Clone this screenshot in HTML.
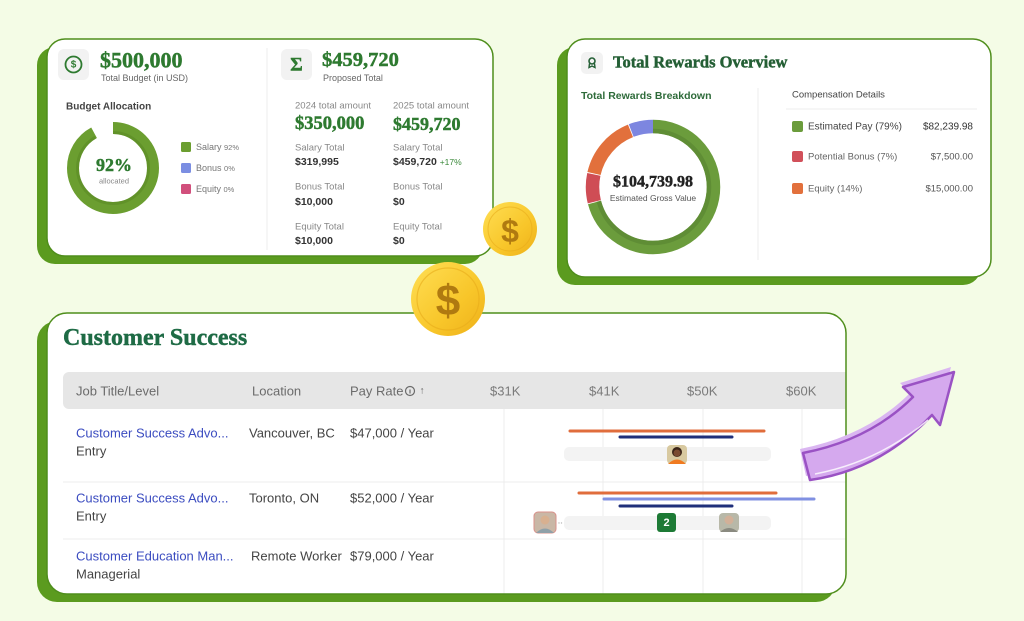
<!DOCTYPE html>
<html><head><meta charset="utf-8"><style>
html,body{margin:0;padding:0;background:#f4fce6;}
svg{display:block;}
.s{font-family:"Liberation Sans",sans-serif;}
.f{font-family:"Liberation Serif",serif;font-weight:bold;stroke-width:0.45px;}
</style></head><body>
<svg width="1024" height="621" viewBox="0 0 1024 621" xmlns="http://www.w3.org/2000/svg">
<defs>
<linearGradient id="gold" x1="0" y1="0" x2="1" y2="1">
<stop offset="0" stop-color="#ffdf55"/><stop offset="0.6" stop-color="#f8c62a"/><stop offset="1" stop-color="#eeb019"/>
</linearGradient>
<clipPath id="c3"><rect x="47" y="313" width="799" height="281" rx="20"/></clipPath>
</defs>
<rect width="1024" height="621" fill="#f4fce6"/>

<!-- CARD 1 -->
<rect x="37" y="47" width="446" height="217" rx="18" fill="#5b9b1f"/>
<rect x="47" y="39" width="446" height="217" rx="18" fill="#fff" stroke="#4f8e1c" stroke-width="1.5"/>
<rect x="58" y="49" width="31" height="31" rx="6" fill="#f2f2f2"/>
<circle cx="73.5" cy="64.5" r="8" fill="none" stroke="#2e7a30" stroke-width="1.8"/>
<text x="73.5" y="65" class="s" font-size="10" font-weight="bold" fill="#2e7a30" text-anchor="middle" dominant-baseline="central">$</text>
<text x="100" y="60" class="f" font-size="22" fill="#2e7a30" stroke="#2e7a30" dominant-baseline="central">$500,000</text>
<text x="101" y="78" class="s" font-size="9" fill="#666" dominant-baseline="central">Total Budget (in USD)</text>
<text x="66" y="107" class="s" font-size="10" font-weight="bold" fill="#444" dominant-baseline="central">Budget Allocation</text>
<circle cx="113" cy="168" r="40" fill="none" stroke="#6b9e30" stroke-width="12" stroke-dasharray="231.2 300" transform="rotate(-90 113 168)"/>
<circle cx="113" cy="168" r="35.5" fill="none" stroke="#5a8a24" stroke-width="3" stroke-dasharray="204 300" transform="rotate(-90 113 168)" opacity="0.6"/>
<text x="114" y="165" class="f" font-size="18" fill="#2e7a30" stroke="#2e7a30" text-anchor="middle" dominant-baseline="central">92%</text>
<text x="114" y="181" class="s" font-size="7.5" fill="#888" text-anchor="middle" dominant-baseline="central">allocated</text>
<rect x="181" y="142" width="10" height="10" rx="1.5" fill="#6b9e30"/>
<text x="196" y="147" class="s" font-size="9" fill="#777" dominant-baseline="central">Salary <tspan font-size="7.5">92%</tspan></text>
<rect x="181" y="163" width="10" height="10" rx="1.5" fill="#7b8ee2"/>
<text x="196" y="168" class="s" font-size="9" fill="#777" dominant-baseline="central">Bonus <tspan font-size="7.5">0%</tspan></text>
<rect x="181" y="184" width="10" height="10" rx="1.5" fill="#d14f7c"/>
<text x="196" y="189" class="s" font-size="9" fill="#777" dominant-baseline="central">Equity <tspan font-size="7.5">0%</tspan></text>
<line x1="267" y1="48" x2="267" y2="250" stroke="#ececec" stroke-width="1"/>
<rect x="281" y="49" width="31" height="31" rx="6" fill="#f2f2f2"/>
<text x="296.5" y="65" class="f" font-size="19" fill="#2e7a30" stroke="#2e7a30" text-anchor="middle" dominant-baseline="central">Σ</text>
<text x="322" y="60" class="f" font-size="20.5" fill="#2e7a30" stroke="#2e7a30" dominant-baseline="central">$459,720</text>
<text x="323" y="78" class="s" font-size="9" fill="#666" dominant-baseline="central">Proposed Total</text>
<g class="s" dominant-baseline="central">
<text x="295" y="106" font-size="9.5" fill="#888">2024 total amount</text>
<text x="393" y="106" font-size="9.5" fill="#888">2025 total amount</text>
<text x="295" y="148" font-size="9.5" fill="#888">Salary Total</text>
<text x="393" y="148" font-size="9.5" fill="#888">Salary Total</text>
<text x="295" y="162" font-size="10.5" font-weight="bold" fill="#333">$319,995</text>
<text x="393" y="162" font-size="10.5" font-weight="bold" fill="#333">$459,720 <tspan font-size="8.5" font-weight="normal" fill="#3b8a3b">+17%</tspan></text>
<text x="295" y="187" font-size="9.5" fill="#888">Bonus Total</text>
<text x="393" y="187" font-size="9.5" fill="#888">Bonus Total</text>
<text x="295" y="202" font-size="10.5" font-weight="bold" fill="#333">$10,000</text>
<text x="393" y="202" font-size="10.5" font-weight="bold" fill="#333">$0</text>
<text x="295" y="227" font-size="9.5" fill="#888">Equity Total</text>
<text x="393" y="227" font-size="9.5" fill="#888">Equity Total</text>
<text x="295" y="241" font-size="10.5" font-weight="bold" fill="#333">$10,000</text>
<text x="393" y="241" font-size="10.5" font-weight="bold" fill="#333">$0</text>
</g>
<text x="295" y="124" class="f" font-size="18.5" fill="#2e7a30" stroke="#2e7a30" dominant-baseline="central">$350,000</text>
<text x="393" y="124" class="f" font-size="18" fill="#2e7a30" stroke="#2e7a30" dominant-baseline="central">$459,720</text>

<!-- CARD 2 -->
<rect x="557" y="47" width="424" height="238" rx="18" fill="#5b9b1f"/>
<rect x="567" y="39" width="424" height="238" rx="18" fill="#fff" stroke="#4f8e1c" stroke-width="1.5"/>
<rect x="581" y="52" width="22" height="22" rx="5" fill="#f2f2f2"/>
<circle cx="592" cy="61" r="3" fill="none" stroke="#245f35" stroke-width="1.6"/>
<path d="M589.5,63.5 L589,67.5 L592,66 L595,67.5 L594.5,63.5" fill="none" stroke="#245f35" stroke-width="1.4"/>
<text x="613" y="62" class="f" font-size="16.5" fill="#245f35" stroke="#245f35" dominant-baseline="central">Total Rewards Overview</text>
<text x="581" y="96" class="s" font-size="10.5" font-weight="bold" fill="#2e6b3a" dominant-baseline="central">Total Rewards Breakdown</text>
<line x1="758" y1="88" x2="758" y2="260" stroke="#ececec" stroke-width="1"/>
<text x="792" y="95" class="s" font-size="9.5" fill="#444" dominant-baseline="central">Compensation Details</text>
<line x1="786" y1="109" x2="977" y2="109" stroke="#ececec" stroke-width="1"/>
<g transform="rotate(-90 653 187)">
<circle cx="653" cy="187" r="60.5" fill="none" stroke="#6b9c3c" stroke-width="13.5" stroke-dasharray="269.3 400"/>
<circle cx="653" cy="187" r="56" fill="none" stroke="#5a8832" stroke-width="4.5" stroke-dasharray="249.3 400" opacity="0.7"/>
<circle cx="653" cy="187" r="60.5" fill="none" stroke="#cf4d55" stroke-width="13.5" stroke-dasharray="0 270.1 27.6 400"/>
<circle cx="653" cy="187" r="60.5" fill="none" stroke="#e2703c" stroke-width="13.5" stroke-dasharray="0 298.6 58.3 400"/>
<circle cx="653" cy="187" r="60.5" fill="none" stroke="#7d86e0" stroke-width="13.5" stroke-dasharray="0 357.7 22.4 400"/>
</g>
<text x="653" y="182" class="f" font-size="16" fill="#222" stroke="#222" text-anchor="middle" dominant-baseline="central">$104,739.98</text>
<text x="653" y="198" class="s" font-size="8.5" fill="#555" text-anchor="middle" dominant-baseline="central">Estimated Gross Value</text>
<rect x="792" y="121" width="11" height="11" rx="2" fill="#6b9c3c"/>
<rect x="792" y="151" width="11" height="11" rx="2" fill="#d1505a"/>
<rect x="792" y="183" width="11" height="11" rx="2" fill="#e2703c"/>
<g class="s" dominant-baseline="central">
<text x="808" y="127" font-size="10" fill="#444">Estimated Pay (79%)</text>
<text x="973" y="127" font-size="10" fill="#333" text-anchor="end">$82,239.98</text>
<text x="808" y="157" font-size="9.5" fill="#666">Potential Bonus  (7%)</text>
<text x="973" y="157" font-size="9.5" fill="#555" text-anchor="end">$7,500.00</text>
<text x="808" y="189" font-size="9.5" fill="#666">Equity  (14%)</text>
<text x="973" y="189" font-size="9.5" fill="#555" text-anchor="end">$15,000.00</text>
</g>

<!-- CARD 3 -->
<rect x="37" y="321" width="799" height="281" rx="20" fill="#5b9b1f"/>
<rect x="47" y="313" width="799" height="281" rx="20" fill="#fff"/>
<g clip-path="url(#c3)">
<rect x="63" y="372" width="800" height="37" rx="6" fill="#e6e6e6"/>
<g stroke="#ececec" stroke-width="1">
<line x1="504" y1="409" x2="504" y2="594"/>
<line x1="603" y1="409" x2="603" y2="594"/>
<line x1="703" y1="409" x2="703" y2="594"/>
<line x1="802" y1="409" x2="802" y2="594"/>
<line x1="63" y1="482" x2="846" y2="482"/>
<line x1="63" y1="539" x2="846" y2="539"/>
</g>
</g>
<rect x="47" y="313" width="799" height="281" rx="20" fill="none" stroke="#4f8e1c" stroke-width="1.5"/>
<text x="63" y="338" class="f" font-size="24" fill="#1e6b45" stroke="#1e6b45" dominant-baseline="central">Customer Success</text>
<g class="s" font-size="13" dominant-baseline="central">
<text x="76" y="391" fill="#6b6b6b">Job Title/Level</text>
<text x="252" y="391" fill="#6b6b6b">Location</text>
<text x="350" y="391" fill="#6b6b6b">Pay Rate</text>
<text x="490" y="391" fill="#7a7a7a">$31K</text>
<text x="589" y="391" fill="#7a7a7a">$41K</text>
<text x="687" y="391" fill="#7a7a7a">$50K</text>
<text x="786" y="391" fill="#7a7a7a">$60K</text>
<text x="76" y="433" fill="#3b4cc0">Customer Success Advo...</text>
<text x="76" y="451" fill="#444">Entry</text>
<text x="249" y="433" fill="#444">Vancouver, BC</text>
<text x="350" y="433" fill="#444">$47,000 / Year</text>
<text x="76" y="498" fill="#3b4cc0">Customer Success Advo...</text>
<text x="76" y="516" fill="#444">Entry</text>
<text x="249" y="498" fill="#444">Toronto, ON</text>
<text x="350" y="498" fill="#444">$52,000 / Year</text>
<text x="76" y="556" fill="#3b4cc0">Customer Education Man...</text>
<text x="76" y="574" fill="#444">Managerial</text>
<text x="251" y="556" fill="#444">Remote Worker</text>
<text x="350" y="556" fill="#444">$79,000 / Year</text>
</g>
<circle cx="410" cy="391" r="4.5" fill="none" stroke="#6b6b6b" stroke-width="1.2"/>
<line x1="410" y1="389.5" x2="410" y2="393.5" stroke="#6b6b6b" stroke-width="1.2"/>
<text x="422" y="391" class="s" font-size="10" fill="#6b6b6b" text-anchor="middle" dominant-baseline="central">↑</text>

<!-- chart rows -->
<g stroke-linecap="round" stroke-width="3">
<line x1="570" y1="431" x2="764" y2="431" stroke="#e06d3c"/>
<line x1="620" y1="437" x2="732" y2="437" stroke="#1f2f7a"/>
<line x1="579" y1="493" x2="776" y2="493" stroke="#e06d3c"/>
<line x1="604" y1="499" x2="814" y2="499" stroke="#8090e2"/>
<line x1="620" y1="506" x2="732" y2="506" stroke="#1f2f7a"/>
</g>
<rect x="564" y="447" width="207" height="14" rx="5" fill="#f3f3f3"/>
<rect x="564" y="516" width="207" height="14" rx="5" fill="#f3f3f3"/>
<!-- avatar row1 -->
<rect x="667" y="445" width="20" height="19" rx="4" fill="#d8c9a0"/>
<circle cx="677" cy="452" r="5" fill="#3a2418"/>
<circle cx="677" cy="453" r="3.5" fill="#7a4a30"/>
<path d="M668,464 Q677,455 686,464 Z" fill="#f07a20"/>
<!-- avatar row2 left -->
<rect x="534" y="512" width="22" height="21" rx="4" fill="#c9b7a6" stroke="#d9908a" stroke-width="1"/>
<circle cx="545" cy="520" r="4.5" fill="#d8b090"/>
<path d="M536,533 Q545,524 554,533 Z" fill="#8fa0a8"/>
<circle cx="559" cy="523" r="0.7" fill="#bbb"/><circle cx="561.5" cy="523" r="0.7" fill="#bbb"/>
<!-- badge -->
<rect x="657" y="513" width="19" height="19" rx="3" fill="#1d7a35"/>
<text x="666.5" y="523" class="s" font-size="11" font-weight="bold" fill="#fff" text-anchor="middle" dominant-baseline="central">2</text>
<!-- avatar row2 right -->
<rect x="719" y="513" width="20" height="19" rx="4" fill="#b8b8a8"/>
<circle cx="729" cy="520" r="4.5" fill="#d2b098"/>
<path d="M720,532 Q729,524 738,532 Z" fill="#8a8a80"/>

<!-- COINS -->
<circle cx="510" cy="229" r="27" fill="url(#gold)"/>
<circle cx="510" cy="229" r="22" fill="none" stroke="#e8ac1a" stroke-width="1" opacity="0.6"/>
<text x="510" y="231" class="s" font-size="32" font-weight="bold" fill="#b07a10" text-anchor="middle" dominant-baseline="central">$</text>
<circle cx="448" cy="299" r="37" fill="url(#gold)"/>
<circle cx="448" cy="299" r="31" fill="none" stroke="#e8ac1a" stroke-width="1.2" opacity="0.6"/>
<text x="448" y="301" class="s" font-size="44" font-weight="bold" fill="#b07a10" text-anchor="middle" dominant-baseline="central">$</text>

<!-- ARROW -->
<path d="M800,449 Q867,436 910,393 L900,383 L951,367 L937,420 L929,410 Q877,465 806,476 Z" fill="#dab6f1"/>
<path d="M803,453 Q870,440 913,397 L903,387 L954,372 L940,425 L932,415 Q880,470 810,480 Z" fill="#d5a9ee" stroke="#9a52c4" stroke-width="2.5" stroke-linejoin="round"/>
<path d="M815,474 Q878,462 928,420" fill="none" stroke="#fff" stroke-width="1.5" opacity="0.8"/>
</svg>
</body></html>
